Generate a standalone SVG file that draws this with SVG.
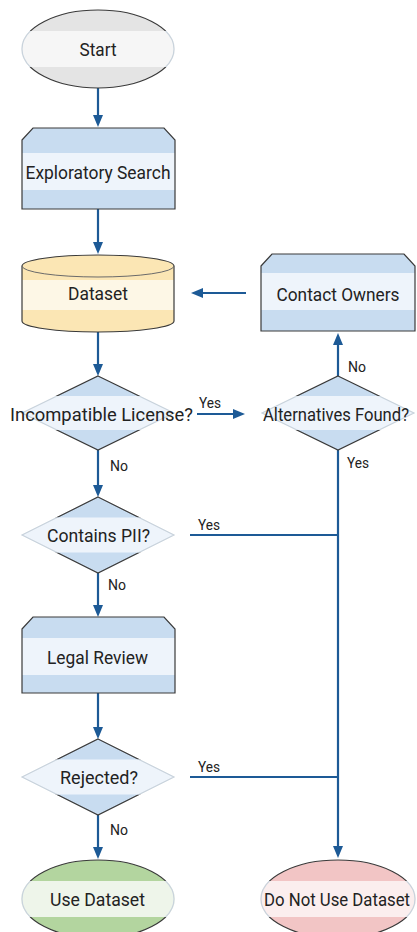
<svg xmlns="http://www.w3.org/2000/svg" width="417" height="932" viewBox="0 0 417 932">
<style>
  .lbl{font-family:Roboto,"Liberation Sans",sans-serif;font-size:18.5px;fill:#222;text-anchor:middle}
  .edge{font-family:Roboto,"Liberation Sans",sans-serif;font-size:15px;fill:#222}
  .conn{fill:none;stroke:#1d5a96;stroke-width:2.2}
  .dk{fill:none;stroke:#3a3a3a;stroke-width:1.2}
  .lt{fill:none;stroke:#c9d3dc;stroke-width:1.2}
  .blueD{fill:#c8dcf0}
  .blueL{fill:#eef4fb}
</style>
<defs>
  <marker id="ah" markerUnits="userSpaceOnUse" markerWidth="12" markerHeight="10" refX="6" refY="5" orient="auto">
    <path d="M0,0 L12,5 L0,10 z" fill="#1d5a96"/>
  </marker>
  <clipPath id="band" clipPathUnits="objectBoundingBox"><rect x="-0.2" y="0.27" width="1.4" height="0.46"/></clipPath>
  <clipPath id="out" clipPathUnits="objectBoundingBox"><rect x="-0.2" y="-0.2" width="1.4" height="0.47"/><rect x="-0.2" y="0.73" width="1.4" height="0.47"/></clipPath>
</defs>

<g id="connectors">
  <path class="conn" d="M98,88 V121" marker-end="url(#ah)"/>
  <path class="conn" d="M98,209 V248" marker-end="url(#ah)"/>
  <path class="conn" d="M98,332 V370" marker-end="url(#ah)"/>
  <path class="conn" d="M98,450 V491" marker-end="url(#ah)"/>
  <text class="edge" x="110" y="471" textLength="18" lengthAdjust="spacingAndGlyphs">No</text>
  <path class="conn" d="M98,573 V611" marker-end="url(#ah)"/>
  <text class="edge" x="108" y="590" textLength="18" lengthAdjust="spacingAndGlyphs">No</text>
  <path class="conn" d="M98,693 V733" marker-end="url(#ah)"/>
  <path class="conn" d="M98,815 V853" marker-end="url(#ah)"/>
  <text class="edge" x="110" y="835" textLength="18" lengthAdjust="spacingAndGlyphs">No</text>
  <path class="conn" d="M197,414 H239" marker-end="url(#ah)"/>
  <text class="edge" x="199" y="408" textLength="22" lengthAdjust="spacingAndGlyphs">Yes</text>
  <path class="conn" d="M338,376 V339" marker-end="url(#ah)"/>
  <text class="edge" x="348" y="372" textLength="18" lengthAdjust="spacingAndGlyphs">No</text>
  <path class="conn" d="M246,293 H197" marker-end="url(#ah)"/>
  <path class="conn" d="M338,450 V852" marker-end="url(#ah)"/>
  <text class="edge" x="347" y="468" textLength="22" lengthAdjust="spacingAndGlyphs">Yes</text>
  <path class="conn" d="M190,535 H338"/>
  <text class="edge" x="198" y="530" textLength="22" lengthAdjust="spacingAndGlyphs">Yes</text>
  <path class="conn" d="M190,777 H338"/>
  <text class="edge" x="198" y="772" textLength="22" lengthAdjust="spacingAndGlyphs">Yes</text>
</g>

<g id="start">
  <ellipse cx="98" cy="49" rx="76" ry="39" fill="#e4e4e4"/>
  <ellipse cx="98" cy="49" rx="77" ry="39" fill="#f6f6f6" clip-path="url(#band)"/>
  <ellipse cx="98" cy="49" rx="76" ry="39" class="dk" clip-path="url(#out)"/>
  <ellipse cx="98" cy="49" rx="76" ry="39" class="lt" stroke="#d8d8d8" clip-path="url(#band)"/>
  <text class="lbl" x="98" y="55.5" textLength="37" lengthAdjust="spacingAndGlyphs">Start</text>
</g>

<g id="exploratory-search">
  <path class="blueD" d="M22,140 L33,128 H164 L175,140 V209 H22 Z"/>
  <rect class="blueL" x="22" y="153" width="153" height="37"/>
  <path class="dk" d="M22,140 L33,128 H164 L175,140 V209 H22 Z"/>
  <text class="lbl" x="98" y="178.5" textLength="145" lengthAdjust="spacingAndGlyphs">Exploratory Search</text>
</g>

<g id="dataset">
  <path d="M22,266 A76,11 0 0 1 174,266 V321 A76,11 0 0 1 22,321 Z" fill="#fbe6b4"/>
  <rect x="22" y="280" width="152" height="30" fill="#fdf7e6"/>
  <path class="dk" d="M22,266 A76,11 0 0 1 174,266 V321 A76,11 0 0 1 22,321 Z"/>
  <path d="M22,266 A76,11 0 0 0 174,266" fill="none" stroke="#6a6a6a" stroke-width="1"/>
  <text class="lbl" x="98" y="299.5" textLength="60" lengthAdjust="spacingAndGlyphs">Dataset</text>
</g>

<g id="contact-owners">
  <path class="blueD" d="M261,266 L272,254 H404 L415,266 V331 H261 Z"/>
  <rect class="blueL" x="261" y="273" width="154" height="37"/>
  <path class="dk" d="M261,266 L272,254 H404 L415,266 V331 H261 Z"/>
  <text class="lbl" x="338" y="300.5" textLength="123" lengthAdjust="spacingAndGlyphs">Contact Owners</text>
</g>

<g id="incompatible-license">
  <polygon class="blueD" points="98,376 174,413 98,450 22,413"/>
  <polygon class="blueL" points="98,376 174,413 98,450 22,413" clip-path="url(#band)"/>
  <polygon class="dk" points="98,376 174,413 98,450 22,413" clip-path="url(#out)"/>
  <polygon class="lt" points="98,376 174,413 98,450 22,413" clip-path="url(#band)"/>
  <text class="lbl" x="101.5" y="421" textLength="183" lengthAdjust="spacingAndGlyphs">Incompatible License?</text>
</g>

<g id="alternatives-found">
  <polygon class="blueD" points="338,376 414,413 338,450 262,413"/>
  <polygon class="blueL" points="338,376 414,413 338,450 262,413" clip-path="url(#band)"/>
  <polygon class="dk" points="338,376 414,413 338,450 262,413" clip-path="url(#out)"/>
  <polygon class="lt" points="338,376 414,413 338,450 262,413" clip-path="url(#band)"/>
  <text class="lbl" x="336" y="420.5" font-size="17.5" textLength="146" lengthAdjust="spacingAndGlyphs">Alternatives Found?</text>
</g>

<g id="contains-pii">
  <polygon class="blueD" points="98,497 174,535 98,573 22,535"/>
  <polygon class="blueL" points="98,497 174,535 98,573 22,535" clip-path="url(#band)"/>
  <polygon class="dk" points="98,497 174,535 98,573 22,535" clip-path="url(#out)"/>
  <polygon class="lt" points="98,497 174,535 98,573 22,535" clip-path="url(#band)"/>
  <text class="lbl" x="98.5" y="541.5" textLength="103" lengthAdjust="spacingAndGlyphs">Contains PII?</text>
</g>

<g id="legal-review">
  <path class="blueD" d="M22,629 L33,617 H164 L175,629 V693 H22 Z"/>
  <rect class="blueL" x="22" y="638" width="153" height="37"/>
  <path class="dk" d="M22,629 L33,617 H164 L175,629 V693 H22 Z"/>
  <text class="lbl" x="97.5" y="663.5" textLength="101" lengthAdjust="spacingAndGlyphs">Legal Review</text>
</g>

<g id="rejected">
  <polygon class="blueD" points="98,739 174,777 98,815 22,777"/>
  <polygon class="blueL" points="98,739 174,777 98,815 22,777" clip-path="url(#band)"/>
  <polygon class="dk" points="98,739 174,777 98,815 22,777" clip-path="url(#out)"/>
  <polygon class="lt" points="98,739 174,777 98,815 22,777" clip-path="url(#band)"/>
  <text class="lbl" x="99" y="783.5" textLength="78" lengthAdjust="spacingAndGlyphs">Rejected?</text>
</g>

<g id="use-dataset">
  <ellipse cx="98" cy="899" rx="76" ry="39" fill="#b3d59f"/>
  <ellipse cx="98" cy="899" rx="77" ry="39" fill="#eef5ea" clip-path="url(#band)"/>
  <ellipse cx="98" cy="899" rx="76" ry="39" class="dk" clip-path="url(#out)"/>
  <ellipse cx="98" cy="899" rx="76" ry="39" class="lt" stroke="#cfd8cb" clip-path="url(#band)"/>
  <text class="lbl" x="97.5" y="906" textLength="95" lengthAdjust="spacingAndGlyphs">Use Dataset</text>
</g>

<g id="do-not-use-dataset">
  <ellipse cx="338" cy="899" rx="77" ry="39" fill="#f2c5c5"/>
  <ellipse cx="338" cy="899" rx="78" ry="39" fill="#fbeeee" clip-path="url(#band)"/>
  <ellipse cx="338" cy="899" rx="77" ry="39" class="dk" clip-path="url(#out)"/>
  <ellipse cx="338" cy="899" rx="77" ry="39" class="lt" stroke="#dccfcf" clip-path="url(#band)"/>
  <text class="lbl" x="337" y="905.5" font-size="17.5" textLength="146" lengthAdjust="spacingAndGlyphs">Do Not Use Dataset</text>
</g>
</svg>
